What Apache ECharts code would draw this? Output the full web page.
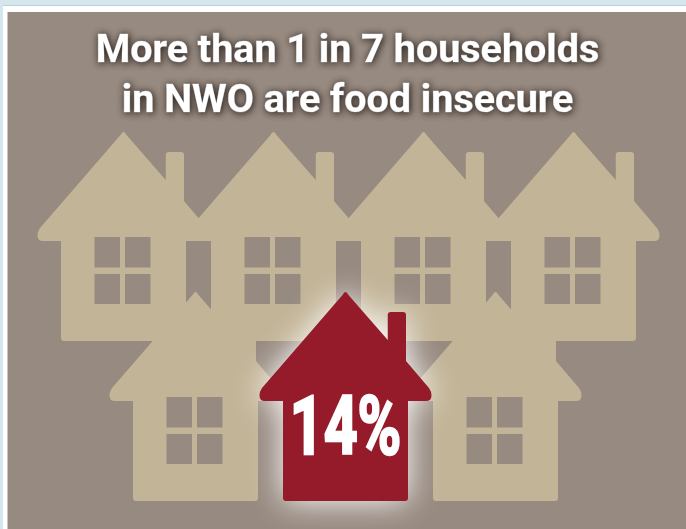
<!DOCTYPE html>
<html>
<head>
<meta charset="utf-8">
<style>
  html, body { margin: 0; padding: 0; background: #ffffff; }
  #chart { width: 686px; height: 529px; }
</style>
<script src="https://cdn.jsdelivr.net/npm/echarts@6/dist/echarts.min.js"></script>
</head>
<body>
<div id="chart"></div>
<script>
// Households shown as a block of seven houses, one of them picked out in red.
const titleLines = ['More than 1 in 7 households', 'in NWO are food insecure'];
const insecureShare = 14;
const backRowColumns = [0, 1, 2, 3];
const frontRowColumns = [0.48, 2.48];
const insecureColumns = [1.48];
const backRow = 0;
const frontRow = 1;

// House outline: apex at 0,0, 172 wide and 209 tall, wound clockwise.
const outline =
  'M-3,3 Q-1.5,0 0,0 Q1.5,0 3,3 L42.25,48 L42.25,23 Q42.25,20 45.25,20 L57.5,20 Q60.5,20 60.5,23 L60.5,69 ' +
  'L83.5,96 Q86,99.5 86,103.5 Q86,109 80.5,109 L62.5,109 L62.5,206 Q62.5,209 59.5,209 L-59.5,209 Q-62.5,209 -62.5,206 ' +
  'L-62.5,109 L-80.5,109 Q-86,109 -86,103.5 Q-86,99.5 -83.5,96 Z';
// Window panes wound the other way so they cut through the fill.
const pane = (x1, x2, y1, y2) => `M${x1},${y1} L${x1},${y2} L${x2},${y2} L${x2},${y1} Z`;
const panes =
  pane(-29, -3.5, 105, 135.5) + pane(1.5, 27, 105, 135.5) +
  pane(-29, -3.5, 142, 172) + pane(1.5, 27, 142, 172);

const houseSize = [172, 209];
const tan = '#c2b497';
const red = '#961b2a';
const panel = '#978a80';

const toPoints = (columns, row) => columns.map(c => [c, row]);

const chart = echarts.init(document.getElementById('chart'), null, { renderer: 'canvas' });
chart.setOption({
  animation: false,
  backgroundColor: '#ffffff',
  title: {
    text: titleLines.join('\n'),
    left: 342.5,
    top: 22,
    textAlign: 'center',
    textStyle: {
      color: '#ffffff',
      fontFamily: 'Roboto',
      fontWeight: 'bold',
      fontSize: 39.5,
      lineHeight: 50,
      textBorderColor: '#ffffff',
      textBorderWidth: 0.7,
      textShadowColor: 'rgba(30,22,18,0.95)',
      textShadowBlur: 7,
      textShadowOffsetX: 1,
      textShadowOffsetY: 1
    }
  },
  grid: {
    show: true,
    left: 7.5,
    top: 12,
    right: 0,
    bottom: 0,
    borderWidth: 0,
    backgroundColor: panel
  },
  xAxis: { type: 'value', show: false, min: -0.7733, max: 3.75, splitLine: { show: false } },
  yAxis: { type: 'value', show: false, inverse: true, min: -1.403, max: 1.828, splitLine: { show: false } },
  graphic: [
    { type: 'rect', z: -1, shape: { x: 0, y: 0, width: 686, height: 5 }, style: { fill: '#d5e6ec' } },
    { type: 'rect', z: -1, shape: { x: 0, y: 5, width: 686, height: 1 }, style: { fill: '#b5d0da' } },
    { type: 'rect', z: -1, shape: { x: 0, y: 0, width: 3, height: 529 }, style: { fill: '#d5e6ec' } }
  ],
  series: [
    {
      name: 'Households',
      type: 'scatter',
      symbol: 'path://' + outline + ' ' + panes,
      symbolSize: houseSize,
      itemStyle: { color: tan, opacity: 1 },
      silent: true,
      z: 2,
      data: toPoints(backRowColumns, backRow).concat(toPoints(frontRowColumns, frontRow))
    },
    {
      name: 'Food insecure households',
      type: 'scatter',
      symbol: 'path://' + outline,
      symbolSize: houseSize,
      itemStyle: {
        color: red,
        opacity: 1,
        shadowColor: '#ffffff',
        shadowBlur: 32
      },
      silent: true,
      z: 3,
      data: toPoints(insecureColumns, frontRow)
    },
    {
      name: 'Share',
      type: 'custom',
      coordinateSystem: 'cartesian2d',
      silent: true,
      z: 4,
      data: toPoints(insecureColumns, frontRow),
      renderItem(params, api) {
        const p = api.coord([api.value(0), api.value(1)]);
        return {
          type: 'text',
          x: p[0],
          y: p[1] + 37,
          scaleX: 0.73,
          style: {
            text: insecureShare + '%',
            fill: '#ffffff',
            stroke: '#ffffff',
            lineWidth: 2.5,
            lineJoin: 'round',
            fontFamily: 'Roboto',
            fontWeight: 'bold',
            fontSize: 81,
            align: 'center',
            verticalAlign: 'middle'
          }
        };
      }
    }
  ]
});
</script>
</body>
</html>
